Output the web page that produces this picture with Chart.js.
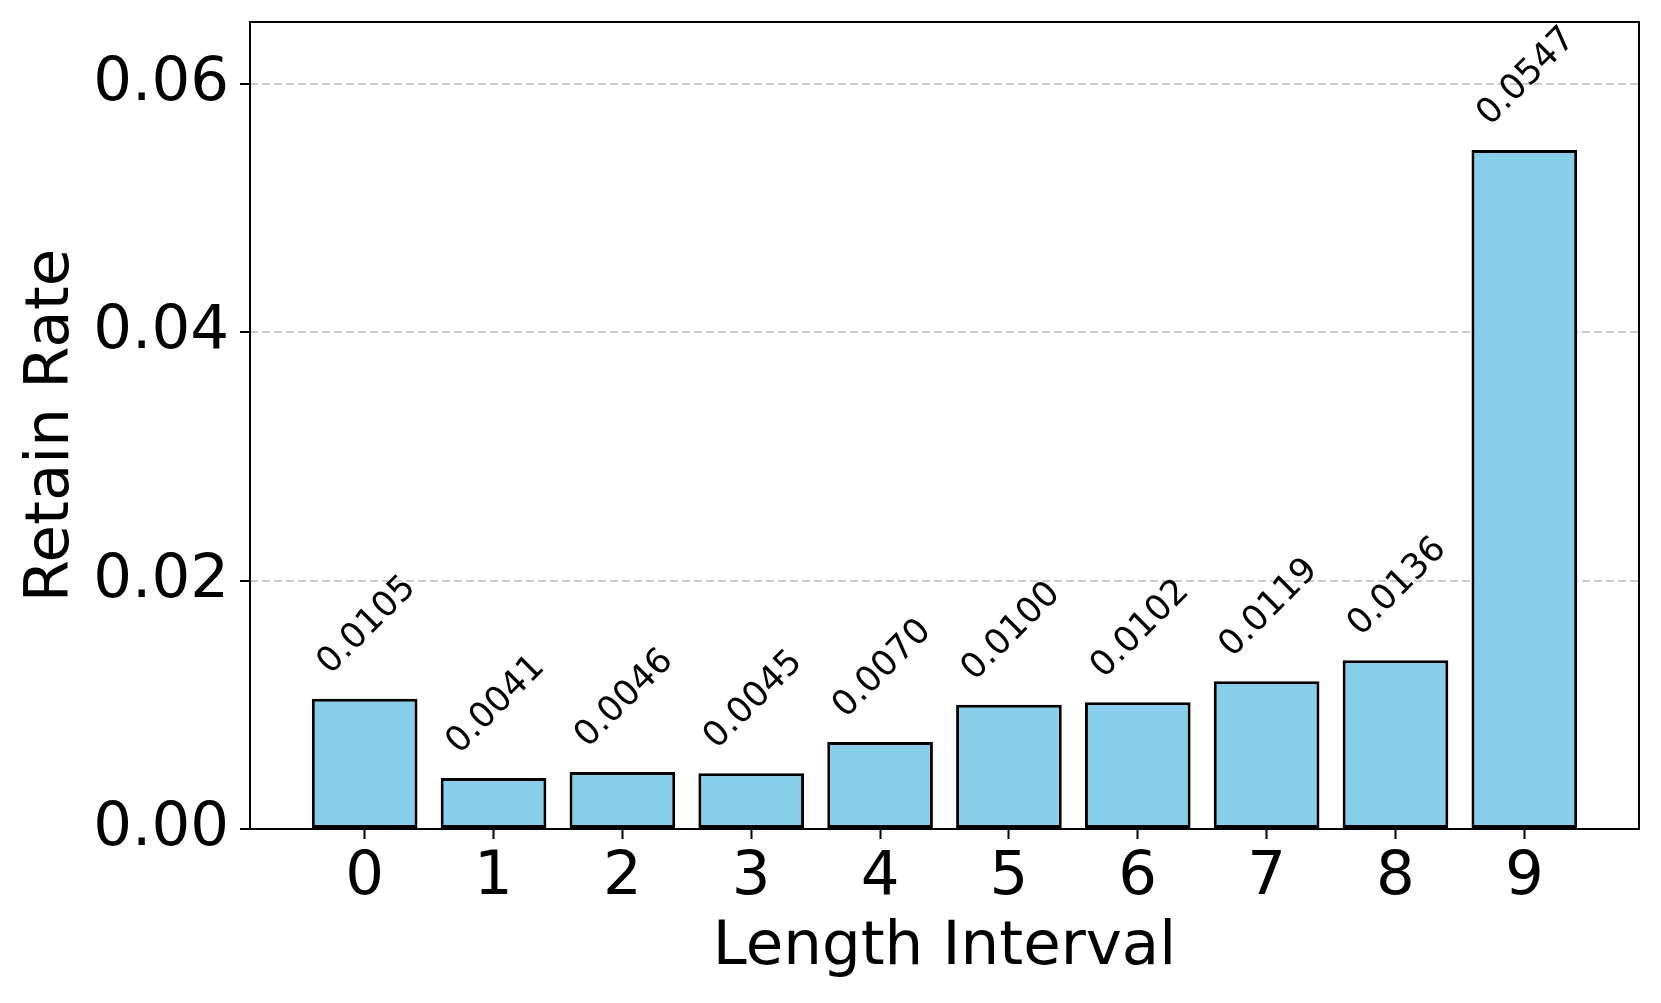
<!DOCTYPE html>
<html>
<head>
<meta charset="utf-8">
<script src="https://cdn.jsdelivr.net/npm/chart.js@4/dist/chart.umd.min.js"></script>
<style>
  html, body { margin: 0; padding: 0; background: #fff; }
  #wrap { width: 1661px; height: 1003px; }
</style>
</head>
<body>
<div id="wrap"><canvas id="chart" width="1661" height="1003"></canvas></div>
<script>
// --- Chart data ---
const intervals = [0, 1, 2, 3, 4, 5, 6, 7, 8, 9];
const retainRate = [0.0105, 0.0041, 0.0046, 0.0045, 0.0070, 0.0100, 0.0102, 0.0119, 0.0136, 0.0547];
const yTicks = [0, 0.02, 0.04, 0.06];

Chart.defaults.font.family = '"DejaVu Sans", sans-serif';
Chart.defaults.color = '#000';

// Rotated value labels above bars (bottom of rotated text box sits just above bar top)
const valueLabels = {
  id: 'valueLabels',
  afterDatasetsDraw(chart) {
    const ctx = chart.ctx;
    const meta = chart.getDatasetMeta(0);
    const a = -Math.PI / 4;
    const cos = Math.cos(a), sin = Math.sin(a);
    ctx.save();
    ctx.font = '35px "DejaVu Sans"';
    ctx.fillStyle = '#000';
    ctx.textAlign = 'left';
    ctx.textBaseline = 'alphabetic';
    meta.data.forEach((bar, i) => {
      const txt = retainRate[i].toFixed(4);
      const m = ctx.measureText(txt);
      const xs = [-m.actualBoundingBoxLeft, m.actualBoundingBoxRight];
      const ys = [-m.actualBoundingBoxAscent, m.actualBoundingBoxDescent];
      let minX = Infinity, maxX = -Infinity, maxY = -Infinity;
      xs.forEach(x => ys.forEach(y => {
        const rx = x * cos - y * sin;
        const ry = x * sin + y * cos;
        minX = Math.min(minX, rx); maxX = Math.max(maxX, rx); maxY = Math.max(maxY, ry);
      }));
      ctx.save();
      ctx.translate(bar.x - (minX + maxX) / 2, bar.y - 24 - maxY);
      ctx.rotate(a);
      ctx.fillText(txt, 0, 0);
      ctx.restore();
    });
    ctx.restore();
  }
};

// Box around plot area, like matplotlib spines
const frame = {
  id: 'frame',
  afterDraw(chart) {
    const { ctx, chartArea: c } = chart;
    ctx.save();
    ctx.strokeStyle = '#000';
    ctx.lineWidth = 2;
    ctx.strokeRect(c.left, c.top, c.right - c.left, c.bottom - c.top);
    ctx.restore();
  }
};

new Chart(document.getElementById('chart'), {
  type: 'bar',
  data: {
    datasets: [{
      data: intervals.map((x, i) => ({ x: x, y: retainRate[i] })),
      backgroundColor: '#87CEEB',
      borderColor: '#000',
      borderWidth: 3,
      borderSkipped: false,
      categoryPercentage: 1,
      barPercentage: 0.82
    }]
  },
  options: {
    responsive: false,
    animation: false,
    layout: { padding: { top: 22, right: 22, left: 0, bottom: 0 } },
    plugins: { legend: { display: false }, tooltip: { enabled: false } },
    scales: {
      x: {
        type: 'linear',
        offset: false,
        min: -0.89,
        max: 9.89,
        afterBuildTicks: s => { s.ticks = intervals.map(v => ({ value: v })); },
        afterFit: s => { s.height = 174; s.paddingLeft = 0; s.paddingRight = 0; },
        border: { display: false },
        grid: { offset: false, drawOnChartArea: false, drawTicks: true, tickLength: 10, tickColor: '#000', tickWidth: 2 },
        ticks: { font: { size: 61, lineHeight: 1 }, padding: 9, maxRotation: 0, autoSkip: false, callback: v => String(v) },
        title: { display: true, text: 'Length Interval', font: { size: 61, lineHeight: 1 }, padding: { top: 0, bottom: 24 } }
      },
      y: {
        min: 0,
        max: 0.065,
        afterBuildTicks: s => { s.ticks = yTicks.map(v => ({ value: v })); },
        afterFit: s => { s.width = 250; s.paddingTop = 0; s.paddingBottom = 0; },
        border: { display: false, dash: [8, 4] },
        grid: {
          color: c => (c.tick && c.tick.value === 0) ? 'rgba(0,0,0,0)' : '#cccccc',
          lineWidth: 2,
          tickLength: 10, tickColor: '#000', tickWidth: 2
        },
        ticks: { font: { size: 61, lineHeight: 1 }, padding: 11, callback: v => v.toFixed(2) },
        title: { display: true, text: 'Retain Rate', font: { size: 61, lineHeight: 1 }, padding: { top: 22, bottom: 0 } }
      }
    }
  },
  plugins: [valueLabels, frame]
});
</script>
</body>
</html>
